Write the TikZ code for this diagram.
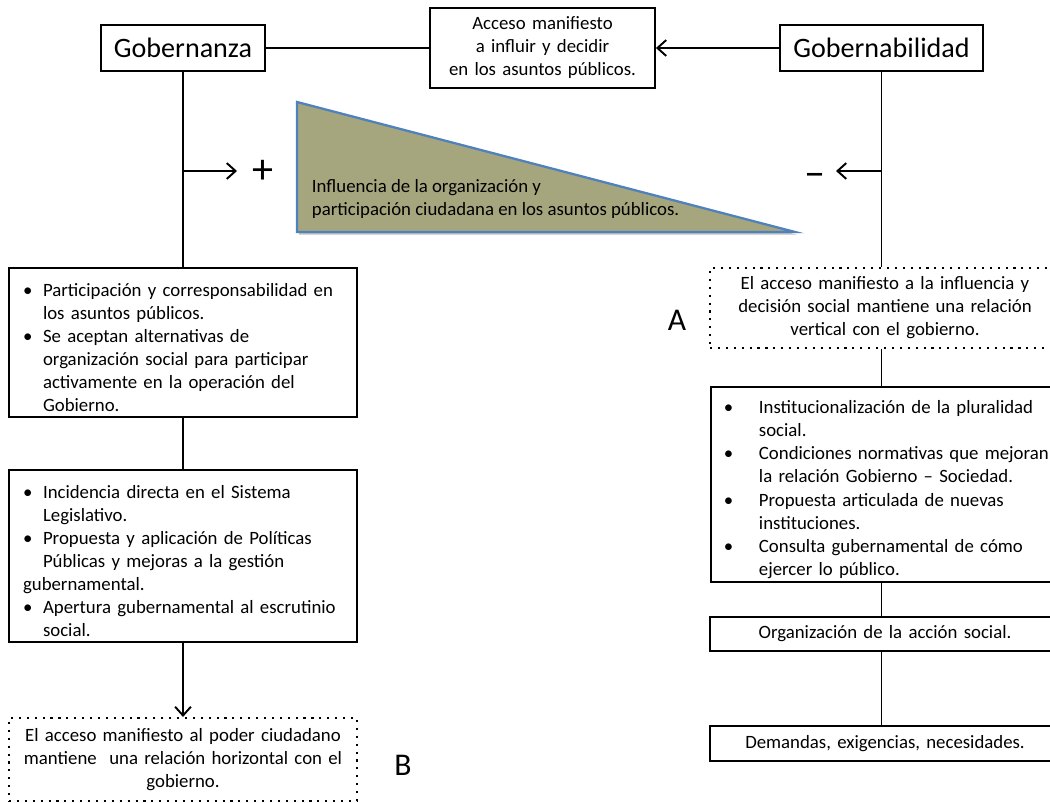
\documentclass[tikz,border=0pt]{standalone}
\usepackage{fontspec}
\setmainfont{Carlito}
\usetikzlibrary{arrows.meta,shadows}
\definecolor{oliva}{RGB}{166,166,126}
\definecolor{azul}{RGB}{79,129,189}
\hyphenpenalty=10000
\newcommand{\punto}[2][0.4cm]{\par\noindent\hangindent=#1\hangafter=1\makebox[#1][l]{\textbullet}#2\par}

\begin{document}
\begin{tikzpicture}[x=0.02cm,y=-0.02cm,>={Straight Barb[length=5pt,width=9pt]},line width=1.1pt,
  titulo/.style={draw,inner sep=0pt,minimum height=0.92cm,font=\fontsize{16}{19}\selectfont},
  caja/.style={draw,inner sep=0pt,align=center,font=\fontsize{10.7}{13.1}\selectfont},
  lista/.style={caja,align=left,inner xsep=0.28cm,text width=6.4cm},
  punteada/.style={caja,line width=1.2pt,dash pattern=on 1.2pt off 3.3pt},
  signo/.style={inner sep=0pt,font=\fontsize{24}{26}\selectfont},
  letra/.style={inner sep=0pt,font=\fontsize{18}{20}\selectfont}]
\useasboundingbox (0,0) rectangle (1050,803);

% cabecera
\node[titulo,minimum width=3.28cm] (gobernanza) at (183,48) {Gobernanza};
\node[titulo,minimum width=4.06cm] (gobernabilidad) at (881.5,48) {Gobernabilidad};
\node[caja,text width=4.5cm,minimum height=1.6cm] (acceso) at (542.5,48)
  {Acceso manifiesto\\ a influir y decidir\\ en los asuntos públicos.};
\draw (gobernanza) -- (acceso);
\draw[->] (gobernabilidad) -- (acceso);

% triangulo
\path[fill=oliva,draw=azul,line width=1.3pt,
  drop shadow={shadow xshift=1pt,shadow yshift=-1.5pt,opacity=0.25,fill=black}]
  (297,102) -- (297,232) -- (795,232) -- cycle;
\node[inner sep=0pt,anchor=west,align=left,font=\fontsize{10.7}{13.1}\selectfont] (influencia) at (311,199)
  {Influencia de la organización y\\participación ciudadana en los asuntos públicos.};

% lado izquierdo
\node[lista,minimum height=2.98cm] (partic) at (183,342.5) {%
  \punto{Participación y corresponsabilidad en\newline los asuntos públicos.}
  \punto{Se aceptan alternativas de\newline organización social para participar\newline activamente en la operación del\newline Gobierno.}};
\node[lista,minimum height=3.44cm] (incid) at (183,556) {%
  \punto{Incidencia directa en el Sistema\newline Legislativo.}
  \punto{Propuesta y aplicación de Políticas\newline Públicas y mejoras a la gestión}
  \noindent gubernamental.\par
  \punto{Apertura gubernamental al escrutinio\newline social.}};
\node[punteada,text width=6.96cm,minimum height=1.66cm] (horizontal) at (183,759.5)
  {El acceso manifiesto al poder ciudadano\\mantiene \ una relación horizontal con el\\gobierno.};
\node[letra] (B) at (403,765) {B};

\draw (gobernanza) -- (partic);
\draw (partic) -- (incid);
\draw[->] (incid) -- (horizontal);

\coordinate (mas) at (237,171);
\draw[->] (gobernanza.south |- mas) -- (mas);
\node[signo] (signomas) at (263,172) {+};

% lado derecho
\node[punteada,text width=7cm,minimum height=1.6cm] (vertical) at (885,308)
  {El acceso manifiesto a la influencia y\\decisión social mantiene una relación\\vertical con el gobierno.};
\node[letra] (A) at (677,320) {A};
\node[lista,anchor=west,inner xsep=0.26cm,text width=7.5cm,minimum height=3.9cm,
  font=\fontsize{10.7}{13.2}\selectfont] (instit) at (710,484.5) {%
  \punto[0.7cm]{Institucionalización de la pluralidad\newline social.}
  \punto[0.7cm]{Condiciones normativas que mejoran\newline la relación Gobierno – Sociedad.}
  \punto[0.7cm]{Propuesta articulada de nuevas\newline instituciones.}
  \punto[0.7cm]{Consulta gubernamental de cómo\newline ejercer lo público.}};
\node[caja,text width=7cm,minimum height=0.68cm] (organiz) at (885,634) {Organización de la acción social.};
\node[caja,text width=7cm,minimum height=0.7cm] (demandas) at (885,743.5) {Demandas, exigencias, necesidades.};

\draw (gobernabilidad.south) -- (gobernabilidad.south |- vertical.north);
\draw (vertical.south -| gobernabilidad) -- (instit.north -| gobernabilidad);
\draw (instit.south -| gobernabilidad) -- (organiz.north -| gobernabilidad);
\draw (organiz.south -| gobernabilidad) -- (demandas.north -| gobernabilidad);

\coordinate (menos) at (836,171);
\draw[->] (gobernabilidad.south |- menos) -- (menos);
\node[signo] (signomenos) at (815,180) {\textendash};
\end{tikzpicture}
\end{document}
